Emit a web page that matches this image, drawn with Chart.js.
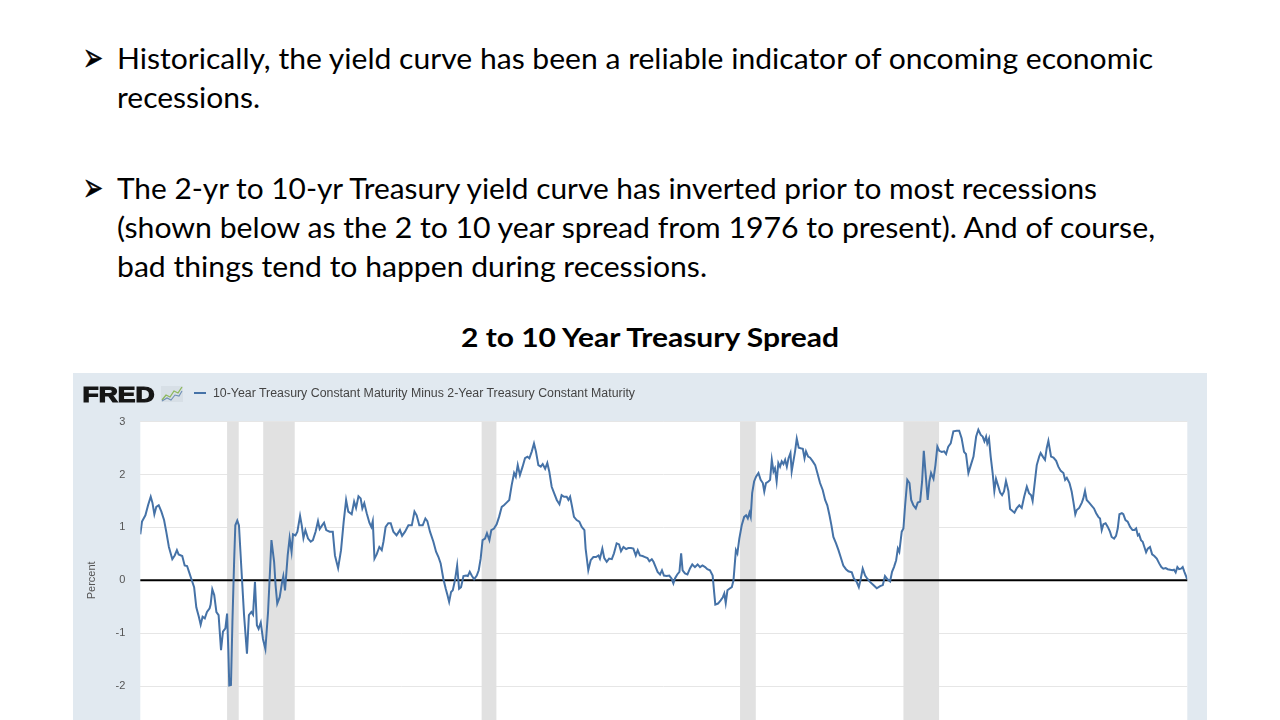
<!DOCTYPE html>
<html>
<head>
<meta charset="utf-8">
<script src="https://cdn.jsdelivr.net/npm/chart.js@4.4.1/dist/chart.umd.min.js"></script>
<style>
html,body{margin:0;padding:0;width:1280px;height:720px;overflow:hidden;background:#fff;}
#slide{position:absolute;left:0;top:0;}
#frame{position:absolute;left:73px;top:373px;width:1134px;height:420px;background:#e1e9f0;}
#frame canvas{position:absolute;left:0;top:0;}
#hdr{position:absolute;left:0;top:0;}
</style>
</head>
<body>
<svg id="slide" width="1280" height="372" xmlns="http://www.w3.org/2000/svg">
  <g font-family="DejaVu Sans" font-size="40" fill="#000" stroke="#000" stroke-width="0.6">
    <text x="83" y="71" textLength="20" lengthAdjust="spacingAndGlyphs">➢</text>
    <text x="83" y="201" textLength="20" lengthAdjust="spacingAndGlyphs">➢</text>
  </g>
  <g font-family="Lato" font-size="28.5" fill="#000">
    <text x="117" y="69" textLength="1036" lengthAdjust="spacingAndGlyphs">Historically, the yield curve has been a reliable indicator of oncoming economic</text>
    <text x="117" y="108" textLength="143" lengthAdjust="spacingAndGlyphs">recessions.</text>
    <text x="117" y="199" textLength="980" lengthAdjust="spacingAndGlyphs">The 2-yr to 10-yr Treasury yield curve has inverted prior to most recessions</text>
    <text x="117" y="238" textLength="1038" lengthAdjust="spacingAndGlyphs">(shown below as the 2 to 10 year spread from 1976 to present).  And of course,</text>
    <text x="117" y="277" textLength="590" lengthAdjust="spacingAndGlyphs">bad things tend to happen during recessions.</text>
  </g>
  <text x="461" y="347" font-family="Lato" font-weight="bold" font-size="26" fill="#000" textLength="378" lengthAdjust="spacingAndGlyphs">2 to 10 Year Treasury Spread</text>
</svg>

<div id="frame">
  <canvas id="c" width="1134" height="420"></canvas>
  <svg id="hdr" width="700" height="40" xmlns="http://www.w3.org/2000/svg">
    <text x="9.5" y="29" font-family="Liberation Sans" font-weight="bold" font-size="21.5" fill="#161616" stroke="#161616" stroke-width="1.2" textLength="72" lengthAdjust="spacingAndGlyphs">FRED</text>
    <rect x="88" y="13" width="22" height="16" fill="#d7dfe6"/>
    <polyline points="89,27 93,22 97,24 101,18 105,20 109,14" fill="none" stroke="#8cb85c" stroke-width="1.3"/>
    <polyline points="89,28 94,25 98,27 102,22 106,23 109,18" fill="none" stroke="#6f8fb5" stroke-width="1.1"/>
    <line x1="121" y1="20" x2="133" y2="20" stroke="#4572a7" stroke-width="2"/>
    <text x="140" y="24" font-family="Liberation Sans" font-size="12" fill="#444" textLength="422" lengthAdjust="spacingAndGlyphs">10-Year Treasury Constant Maturity Minus 2-Year Treasury Constant Maturity</text>
  </svg>
</div>

<script>
// Decimal-year dates and 10Y-2Y spread values (percent)
const dates = [
1976.42,1976.49,1976.63,1976.74,1976.85,1976.92,1977.00,1977.08,1977.18,1977.29,1977.40,1977.49,1977.60,1977.74,1977.84,1977.93,
1978.00,1978.15,1978.25,1978.35,1978.43,1978.53,1978.64,1978.73,1978.84,1978.91,1978.99,1979.08,1979.17,1979.28,1979.32,1979.39,
1979.47,1979.56,1979.65,1979.75,1979.83,1979.93,1980.00,1980.05,1980.09,1980.16,1980.22,1980.29,1980.34,1980.42,1980.49,1980.59,
1980.70,1980.82,1980.90,1981.00,1981.07,1981.15,1981.23,1981.30,1981.39,1981.48,1981.58,1981.69,1981.83,1981.94,1982.00,1982.07,
1982.17,1982.27,1982.32,1982.39,1982.50,1982.58,1982.66,1982.72,1982.82,1982.90,1983.01,1983.08,1983.15,1983.23,1983.34,1983.45,
1983.54,1983.65,1983.75,1983.82,1983.92,1984.00,1984.09,1984.23,
1984.36,1984.45,1984.58,1984.70,1984.81,1984.91,1985.00,1985.14,1985.24,1985.32,1985.42,1985.51,1985.58,1985.66,1985.76,1985.87,
1985.95,1986.01,1986.08,1986.17,1986.28,1986.38,1986.45,1986.54,1986.65,1986.75,1986.86,1986.99,1987.13,1987.22,1987.34,1987.48,
1987.62,1987.73,1987.82,1987.93,1988.07,1988.18,1988.26,1988.37,1988.51,1988.62,1988.72,1988.81,1988.92,1989.02,1989.09,1989.16,
1989.24,1989.31,1989.40,1989.49,1989.57,1989.65,1989.75,1989.86,1989.93,1990.01,1990.09,1990.19,1990.30,1990.38,1990.46,1990.54,
1990.64,1990.72,1990.82,1990.90,1991.01,1991.12,1991.22,1991.33,1991.42,1991.53,1991.64,1991.74,1991.84,1991.91,1991.99,
1992.08,1992.19,1992.29,1992.39,1992.47,1992.57,1992.66,1992.74,1992.84,1992.94,1993.02,1993.12,1993.21,1993.29,1993.39,1993.49,
1993.60,1993.71,1993.80,1993.90,1994.01,1994.08,1994.15,1994.22,1994.31,1994.42,1994.53,1994.63,1994.74,1994.79,1994.90,1995.00,
1995.11,1995.22,1995.32,1995.38,1995.48,1995.56,1995.66,1995.76,1995.87,1995.96,1996.07,1996.17,1996.25,1996.35,1996.46,1996.55,
1996.66,1996.76,1996.86,1996.94,1997.03,1997.14,1997.24,1997.34,1997.42,1997.52,1997.59,1997.68,1997.76,1997.86,1997.94,1998.02,
1998.13,1998.24,1998.34,1998.41,1998.48,1998.57,1998.66,1998.73,1998.79,1998.89,1998.99,1999.10,1999.19,1999.30,1999.41,1999.51,
1999.61,1999.72,1999.81,1999.92,
2000.03,2000.09,2000.14,2000.25,2000.36,2000.45,2000.51,2000.57,2000.64,2000.72,2000.82,2000.89,2000.95,2000.99,2001.05,2001.13,
2001.23,2001.33,2001.41,2001.48,2001.55,2001.60,2001.66,2001.74,2001.82,2001.92,2002.01,2002.10,2002.16,2002.23,2002.33,2002.40,
2002.47,2002.54,2002.60,2002.67,2002.74,2002.81,2002.88,2002.95,2003.02,2003.09,2003.16,2003.24,2003.29,2003.36,2003.43,2003.50,
2003.58,2003.66,2003.75,2003.82,2003.88,2003.97,2004.05,2004.16,2004.26,2004.35,2004.46,2004.57,2004.67,2004.76,2004.85,2004.93,
2005.01,2005.12,2005.22,2005.31,2005.42,2005.53,2005.63,2005.77,2005.86,2005.97,2006.06,2006.14,2006.22,2006.32,2006.41,2006.52,
2006.66,2006.80,2006.94,2007.05,2007.14,2007.24,2007.35,2007.43,2007.51,2007.60,2007.67,2007.73,
2007.83,2007.90,2007.97,2008.06,2008.15,2008.22,2008.31,2008.41,2008.49,2008.59,2008.67,2008.74,2008.82,2008.90,2008.97,2009.04,
2009.14,2009.22,2009.30,2009.38,2009.48,2009.58,2009.66,2009.75,2009.85,2009.96,2010.10,2010.20,2010.30,2010.40,2010.48,2010.58,
2010.68,2010.79,2010.90,2010.99,2011.09,2011.17,2011.24,2011.31,2011.36,2011.43,2011.50,2011.58,2011.65,2011.72,2011.80,2011.89,
2011.97,2012.05,2012.13,2012.23,2012.30,2012.40,2012.48,2012.57,2012.68,2012.78,2012.88,2012.99,2013.08,2013.17,2013.23,2013.33,
2013.40,2013.50,2013.56,2013.65,2013.74,2013.81,2013.88,
2013.99,2014.09,2014.20,2014.29,2014.39,2014.50,2014.57,2014.64,2014.75,2014.84,2014.91,2014.99,2015.05,2015.15,2015.26,2015.32,
2015.39,2015.46,2015.56,2015.67,2015.76,2015.85,2015.94,2016.01,2016.08,2016.15,2016.24,2016.33,2016.42,2016.49,2016.59,2016.67,
2016.74,2016.81,2016.91,2016.97,2017.06,2017.15,2017.25,2017.35,2017.43,2017.50,2017.57,2017.62,2017.70,2017.77,2017.84,2017.91,
2017.98,2018.07,2018.16,2018.25,2018.35,2018.45,2018.54,2018.62,2018.72,2018.80,2018.90,2019.00,2019.06,2019.13,2019.20,2019.27,
2019.35,2019.42,2019.49,2019.55,2019.60
];
const spread = [
0.87,1.11,1.23,1.42,1.58,1.47,1.25,1.39,1.42,1.30,1.14,0.92,0.63,0.40,0.47,0.57,
0.49,0.46,0.28,0.27,0.16,0.02,-0.13,-0.51,-0.70,-0.84,-0.69,-0.72,-0.60,-0.53,-0.46,-0.17,
-0.28,-0.60,-0.66,-1.32,-0.97,-0.91,-0.63,-1.30,-1.99,-1.98,-0.79,0.35,1.04,1.13,1.04,0.22,
-0.66,-1.39,-0.66,-0.60,-0.65,-0.03,-0.85,-0.92,-0.80,-1.11,-1.30,-0.60,0.76,0.35,-0.09,-0.44,
-0.32,-0.03,0.08,-0.19,0.47,0.80,0.54,0.87,0.85,0.92,1.22,1.04,0.80,0.95,0.79,0.73,
0.76,0.92,1.12,0.97,1.04,1.09,0.95,0.92,
0.92,0.47,0.23,0.57,1.11,1.52,1.30,1.25,1.49,1.37,1.59,1.55,1.36,1.46,1.27,1.09,
1.01,1.12,0.41,0.49,0.63,0.57,0.73,1.01,1.08,1.08,0.92,0.85,0.95,0.84,0.92,1.04,
1.04,1.30,1.23,1.04,1.04,1.17,1.12,0.92,0.73,0.54,0.44,0.32,0.03,-0.16,-0.28,-0.41,
-0.22,-0.19,0.00,0.28,-0.16,-0.13,0.08,0.09,0.08,0.16,0.09,0.02,0.09,0.19,0.41,0.76,
0.79,0.89,0.76,0.95,0.98,1.06,1.20,1.39,1.42,1.47,1.52,1.80,2.03,1.96,2.18,
1.99,2.15,2.31,2.34,2.31,2.44,2.59,2.44,2.18,2.15,2.20,2.11,2.22,2.06,1.77,1.65,
1.52,1.44,1.61,1.58,1.58,1.52,1.58,1.42,1.20,1.14,1.11,1.01,0.95,0.60,0.19,0.38,
0.44,0.44,0.47,0.41,0.60,0.42,0.35,0.41,0.40,0.51,0.70,0.68,0.55,0.63,0.59,0.61,
0.61,0.60,0.47,0.57,0.47,0.46,0.44,0.42,0.36,0.40,0.35,0.25,0.16,0.11,0.19,0.09,
0.08,0.09,0.03,-0.06,0.04,0.11,0.16,0.51,0.19,0.13,0.11,0.23,0.30,0.25,0.30,0.25,
0.28,0.25,0.21,0.19,
0.09,-0.22,-0.46,-0.44,-0.38,-0.32,-0.25,-0.43,-0.19,-0.16,-0.13,0.00,0.35,0.57,0.51,0.79,
1.04,1.20,1.23,1.17,1.28,1.20,1.65,1.87,1.96,2.03,1.90,1.84,1.68,1.84,1.87,1.90,
2.28,2.06,2.12,1.87,2.22,2.15,2.25,2.20,2.28,2.15,2.31,2.41,2.06,2.25,2.44,2.68,
2.51,2.50,2.49,2.31,2.44,2.34,2.32,2.25,2.18,2.03,1.84,1.71,1.52,1.42,1.23,1.04,
0.82,0.70,0.57,0.44,0.28,0.21,0.17,0.15,0.03,-0.03,-0.13,0.03,0.22,0.09,0.03,-0.03,
-0.09,-0.15,-0.11,-0.09,0.08,0.02,-0.02,0.16,0.25,0.38,0.60,0.54,
0.92,0.98,1.42,1.90,1.84,1.52,1.42,1.36,1.47,1.49,1.87,2.45,1.99,1.52,1.87,2.03,
1.92,2.18,2.53,2.45,2.43,2.44,2.39,2.53,2.59,2.82,2.83,2.83,2.69,2.43,2.39,2.03,
2.18,2.34,2.72,2.85,2.75,2.72,2.63,2.72,2.59,2.68,2.34,2.03,1.69,1.92,1.80,1.66,
1.61,1.68,1.88,1.69,1.35,1.31,1.28,1.36,1.42,1.37,1.58,1.77,1.65,1.61,1.50,1.90,
2.18,2.34,2.41,2.34,2.28,2.50,2.64,
2.34,2.32,2.26,2.15,2.07,2.03,1.90,1.94,1.84,1.68,1.49,1.25,1.33,1.37,1.47,1.55,
1.69,1.52,1.47,1.41,1.36,1.27,1.20,1.17,0.95,1.06,1.08,1.01,0.92,0.82,0.79,0.84,
0.98,1.25,1.27,1.25,1.14,1.11,1.01,0.95,0.95,0.98,0.85,0.87,0.76,0.73,0.63,0.53,
0.60,0.63,0.49,0.46,0.41,0.32,0.25,0.22,0.23,0.21,0.20,0.19,0.20,0.15,0.25,0.21,
0.22,0.25,0.16,0.09,0.02
];
// Recession shading (decimal years)
const recStart = [1980.00, 1981.49, 1990.50, 2001.16, 2007.90];
const recEnd   = [1980.48, 1982.79, 1991.11, 2001.81, 2009.37];
// Axis range
const xRange = [1976.42, 2019.61];
const yRange = [-3, 3];

const bands = {
  id: 'bands',
  beforeDraw(chart) {
    const {ctx, chartArea: a} = chart;
    ctx.save();
    ctx.fillStyle = '#ffffff';
    ctx.fillRect(a.left, a.top, a.right - a.left, a.bottom - a.top);
    ctx.restore();
  },
  beforeDatasetsDraw(chart) {
    const {ctx, chartArea: a, scales: {x, y}} = chart;
    ctx.save();
    ctx.fillStyle = '#e1e1e1';
    recStart.forEach((s, i) => {
      const x1 = x.getPixelForValue(s), x2 = x.getPixelForValue(recEnd[i]);
      ctx.fillRect(x1, a.top, x2 - x1, a.bottom - a.top);
    });
    const y0 = y.getPixelForValue(0);
    ctx.strokeStyle = '#000';
    ctx.lineWidth = 2;
    ctx.beginPath();
    ctx.moveTo(a.left, y0);
    ctx.lineTo(a.right, y0);
    ctx.stroke();
    ctx.restore();
  }
};

new Chart(document.getElementById('c'), {
  type: 'line',
  data: {
    datasets: [{
      label: '10-Year Treasury Constant Maturity Minus 2-Year Treasury Constant Maturity',
      data: dates.map((d, i) => ({x: d, y: spread[i]})),
      borderColor: '#4572a7',
      borderWidth: 2,
      pointRadius: 0,
      tension: 0,
      fill: false
    }]
  },
  options: {
    responsive: false,
    animation: false,
    devicePixelRatio: 1,
    layout: {padding: {top: 48.75, bottom: 54.15, left: 0, right: 19.7}},
    plugins: {legend: {display: false}, tooltip: {enabled: false}},
    scales: {
      x: {type: 'linear', min: xRange[0], max: xRange[1], display: false},
      y: {
        min: yRange[0], max: yRange[1],
        ticks: {stepSize: 1, color: '#555', font: {family: 'Liberation Sans', size: 11}, padding: 15},
        grid: {drawTicks: false, color: c => c.tick && c.tick.value === 0 ? 'rgba(0,0,0,0)' : '#e6e6e6'},
        border: {display: false},
        title: {display: true, text: 'Percent', color: '#555', font: {family: 'Liberation Sans', size: 11}, padding: {top: 12.4, bottom: 0}},
        afterFit: s => { s.width = 67.3; }
      }
    }
  },
  plugins: [bands]
});
</script>
</body>
</html>
